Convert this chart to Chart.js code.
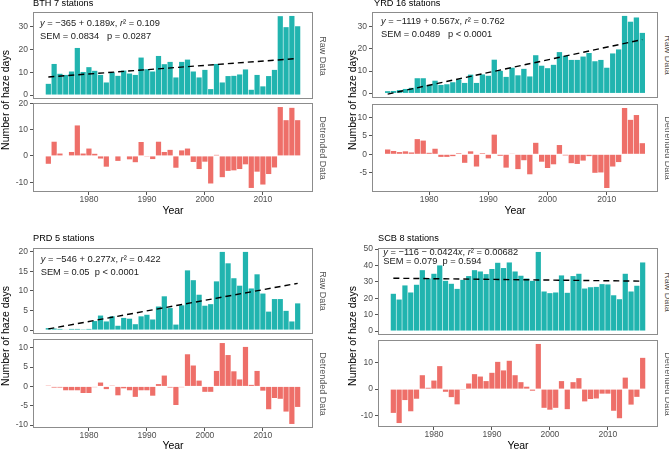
<!DOCTYPE html>
<html>
<head>
<meta charset="utf-8">
<title>Number of haze days</title>
<script src="https://cdn.jsdelivr.net/npm/chart.js@4.4.1/dist/chart.umd.min.js"></script>
<style>
    html, body { margin: 0; padding: 0; background: #fff; }
    #fig {
        position: relative;
        width: 669px;
        height: 450px;
        overflow: hidden;
        font-family: "Liberation Sans", Arial, sans-serif;
    }
    #fig canvas { position: absolute; }
    .lbl { position: absolute; white-space: pre; line-height: 1; z-index: 2; }
    .title { font-size: 9.2px; color: #000; }
    .eq { font-size: 9.3px; color: #1a1a1a; line-height: 13px; }
    .eq.tight { line-height: 9px; }
    .strip { font-size: 9px; color: #555; transform: translate(-50%, -50%) rotate(90deg); }
    .ytitle { font-size: 10.5px; color: #000; transform: translate(-50%, -50%) rotate(-90deg); }
</style>
</head>
<body>
<div id="fig">
    <!-- panel titles -->
    <div class="lbl title" style="left:33px; top:-0.6px;">BTH 7 stations</div>
    <div class="lbl title" style="left:374px; top:-0.6px;">YRD 16 stations</div>
    <div class="lbl title" style="left:33px; top:234.4px;">PRD 5 stations</div>
    <div class="lbl title" style="left:378px; top:234.4px;">SCB 8 stations</div>

    <!-- regression annotations -->
    <div class="lbl eq" style="left:40px; top:16.8px;"><i>y</i> = −365 + 0.189<i>x</i>, <i>r</i>² = 0.109
SEM = 0.0834   p = 0.0287</div>
    <div class="lbl eq" style="left:381px; top:14.8px;"><i>y</i> = −1119 + 0.567<i>x</i>, <i>r</i>² = 0.762
SEM = 0.0489   p &lt; 0.0001</div>
    <div class="lbl eq" style="left:40.7px; top:252.8px;"><i>y</i> = −546 + 0.277<i>x</i>, <i>r</i>² = 0.422
SEM = 0.05  p &lt; 0.0001</div>
    <div class="lbl eq tight" style="left:383.3px; top:247.5px;"><i>y</i> = −116 − 0.0424<i>x</i>, <i>r</i>² = 0.00682
SEM = 0.079  p = 0.594</div>

    <!-- facet strips -->
    <div class="lbl strip" style="left:321.5px; top:55.5px;">Raw Data</div>
    <div class="lbl strip" style="left:321.5px; top:147.5px;">Detrended Data</div>
    <div class="lbl strip" style="left:666.5px; top:55px;">Raw Data</div>
    <div class="lbl strip" style="left:666.5px; top:148px;">Detrended Data</div>
    <div class="lbl strip" style="left:321.5px; top:291px;">Raw Data</div>
    <div class="lbl strip" style="left:321.5px; top:383.5px;">Detrended Data</div>
    <div class="lbl strip" style="left:666.5px; top:291.5px;">Raw Data</div>
    <div class="lbl strip" style="left:666.5px; top:383.5px;">Detrended Data</div>

    <!-- shared y titles -->
    <div class="lbl ytitle" style="left:5px; top:100px;">Number of haze days</div>
    <div class="lbl ytitle" style="left:352px; top:100px;">Number of haze days</div>
    <div class="lbl ytitle" style="left:5px; top:336px;">Number of haze days</div>
    <div class="lbl ytitle" style="left:352px; top:336px;">Number of haze days</div>
</div>

<script>
// ---- data ----
const years = [1973, 1974, 1975, 1976, 1977, 1978, 1979, 1980, 1981, 1982,
               1983, 1984, 1985, 1986, 1987, 1988, 1989, 1990, 1991, 1992,
               1993, 1994, 1995, 1996, 1997, 1998, 1999, 2000, 2001, 2002,
               2003, 2004, 2005, 2006, 2007, 2008, 2009, 2010, 2011, 2012,
               2013, 2014, 2015, 2016];
const yearTicks = [1980, 1990, 2000, 2010];

const bthRaw = [4.9, 13.6, 9.3, 8.8, 10.3, 20.6, 10.1, 12.2, 10.6, 8.8,
                5.5, 9.9, 8.4, 10.7, 9.4, 8.8, 16.4, 11.3, 10.3, 17.1,
                13.5, 14.5, 7.7, 14.5, 15.5, 10.3, 7.7, 11.0, 2.6, 13.6,
                5.5, 8.3, 8.4, 9.0, 11.2, 2.3, 8.8, 3.8, 8.3, 11.0,
                34.5, 29.7, 34.6, 30.1];
const bthDetrended = [-3.0, 5.4, 0.9, -0.2, 1.5, 11.6, 0.9, 2.8, 0.8, -1.0,
                      -4.1, 0.2, -1.9, 0.2, -1.3, -2.4, 5.3, -0.1, -1.2, 5.4,
                      1.5, 2.3, -4.5, 2.1, 2.8, -2.3, -5.0, -2.2, -10.5, 0.4,
                      -8.1, -5.7, -5.5, -5.0, -3.2, -12.2, -6.0, -10.9, -6.9, -4.4,
                      18.6, 13.6, 18.3, 13.6];
const bthTrend = [7.9, 16.0];          // fitted line at 1973 and 2016
const bthRawTicks = [0, 10, 20, 30];
const bthDetrendedTicks = [-10, 0, 10, 20];

const yrdRaw = [1.0, 1.1, 1.5, 2.0, 2.5, 6.8, 6.8, 3.8, 5.7, 3.8,
                4.1, 5.0, 6.3, 4.7, 8.4, 4.7, 8.5, 7.9, 15.1, 10.1,
                7.4, 11.5, 8.1, 11.0, 7.6, 17.1, 12.4, 11.3, 12.8, 18.5,
                16.8, 15.0, 15.0, 16.5, 18.1, 14.4, 15.0, 11.5, 17.9, 19.7,
                34.7, 32.1, 34.0, 27.1];
const yrdDetrended = [1.3, 0.9, 0.6, 0.8, 0.5, 4.1, 3.7, 0.4, 1.5, -0.7,
                      -0.7, -0.5, 0.3, -2.3, 0.8, -3.3, 0.3, -1.1, 5.3, -0.4,
                      -3.6, 0.1, -4.0, -1.6, -5.4, 3.1, -2.0, -3.7, -2.7, 2.5,
                      -0.3, -2.4, -2.6, -1.7, -0.5, -5.0, -4.9, -9.1, -3.3, -2.1,
                      12.5, 9.3, 10.6, 3.0];
const yrdTrend = [-0.3, 24.1];
const yrdRawTicks = [0, 10, 20, 30];
const yrdDetrendedTicks = [-5, 0, 5, 10];

const prdRaw = [0.5, 0.4, 0.3, 0.1, 0.3, 0.3, 0.2, 0.3, 2.3, 3.7,
                2.2, 3.5, 1.1, 3.1, 2.9, 1.5, 3.5, 3.9, 2.7, 6.0,
                8.6, 5.6, 1.4, 6.3, 15.2, 12.7, 9.0, 6.2, 6.6, 12.4,
                19.9, 17.0, 13.2, 11.3, 19.9, 10.6, 14.2, 9.3, 4.7, 7.9,
                7.9, 4.9, 2.2, 6.8];
const prdDetrended = [0.2, -0.3, -0.3, -1.0, -1.0, -1.0, -1.7, -1.7, -0.2, 1.0,
                      -0.7, 0.2, -2.3, -0.5, -1.0, -2.7, -1.0, -1.0, -2.4, 0.6,
                      2.8, -0.3, -4.8, -0.2, 8.3, 5.4, 1.5, -1.4, -1.4, 4.0,
                      11.2, 8.1, 3.9, 1.8, 10.2, 0.4, 4.0, -1.1, -5.9, -3.0,
                      -3.2, -6.5, -9.7, -5.3];
const prdTrend = [0.3, 11.9];
const prdRawTicks = [0, 5, 10, 15, 20];
const prdDetrendedTicks = [-10, -5, 0, 5, 10];

const scbRaw = [22.7, 19.2, 27.8, 23.5, 28.2, 37.1, 32.0, 34.9, 40.0, 30.6,
                28.8, 25.7, 31.2, 33.5, 37.1, 36.3, 34.7, 37.8, 41.6, 38.4,
                41.8, 36.3, 33.7, 32.0, 30.6, 48.2, 24.1, 23.1, 23.5, 33.9,
                23.3, 33.5, 34.9, 25.9, 26.7, 26.9, 28.6, 28.4, 21.8, 19.4,
                34.9, 24.1, 27.6, 41.8];
const scbDetrended = [-8.9, -12.7, -4.1, -8.3, -3.6, 5.2, 0.5, 3.2, 8.6, -1.0,
                      -3.0, -5.7, -0.1, 2.1, 5.6, 4.7, 3.0, 6.1, 10.2, 7.0,
                      10.6, 5.2, 2.6, 0.9, -0.6, 16.9, -7.0, -7.7, -7.0, 3.0,
                      -7.5, 2.6, 4.1, -4.6, -3.7, -3.5, -1.7, -1.7, -8.1, -10.9,
                      4.3, -5.8, -2.9, 11.7];
const scbTrend = [32.2, 30.4];
const scbRawTicks = [0, 10, 20, 30, 40, 50];
const scbDetrendedTicks = [-10, 0, 10];

// ---- layout (pixels in the 669x450 figure) ----
const RAW_COLOR = '#21B4AF';
const DETRENDED_COLOR = '#EE6F69';
const TICK_FONT = { family: '"Liberation Sans", Arial, sans-serif', size: 8.5 };
const TITLE_FONT = { family: '"Liberation Sans", Arial, sans-serif', size: 10.5 };
const HEADROOM = 6;   // room above each panel so the top tick label is not clipped

const boxes = {
    bth: { x0: 0,   left: 33,  right: 313, rawTop: 12,  rawBottom: 99,  detTop: 103, detBottom: 192, axisH: 25 },
    yrd: { x0: 335, left: 372, right: 658, rawTop: 12,  rawBottom: 98,  detTop: 104, detBottom: 192, axisH: 25 },
    prd: { x0: 0,   left: 33,  right: 313, rawTop: 248, rawBottom: 334, detTop: 339, detBottom: 428, axisH: 24 },
    scb: { x0: 335, left: 378, right: 658, rawTop: 248, rawBottom: 335, detTop: 340, detBottom: 427, axisH: 25 }
};

/**
 * Grey frame around every panel, like the ggplot panel border
 */
const panelBorder = {
    id: 'panelBorder',
    afterDraw(chart) {
        const { ctx, chartArea: a } = chart;
        ctx.save();
        ctx.strokeStyle = '#8c8c8c';
        ctx.lineWidth = 1;
        ctx.strokeRect(a.left + 0.5, a.top + 0.5, a.width - 1, a.height - 1);
        ctx.restore();
    }
};

/**
 * y limits with the usual 5% padding around the data
 */
function yLimits(values, trend) {
    const all = values.concat(trend || []);
    const lo = Math.min(0, ...all);
    const hi = Math.max(0, ...all);
    const pad = (hi - lo) * 0.05;
    return [lo - pad, hi + pad];
}

/**
 * Draw one sub panel (raw or detrended)
 */
function drawPanel(box, top, bottom, values, trend, ticks, color, showYear) {
    const canvas = document.createElement('canvas');
    const width = box.right - box.x0;
    const height = bottom - top + HEADROOM + (showYear ? box.axisH : 0);
    canvas.width = width;
    canvas.height = height;
    canvas.style.width = width + 'px';
    canvas.style.height = height + 'px';
    canvas.style.left = box.x0 + 'px';
    canvas.style.top = (top - HEADROOM) + 'px';
    document.getElementById('fig').appendChild(canvas);

    const [yMin, yMax] = yLimits(values, trend);
    const datasets = [{
        type: 'bar',
        data: years.map((yr, i) => ({ x: yr, y: values[i] })),
        backgroundColor: color,
        borderWidth: 0,
        barPercentage: 0.9,
        categoryPercentage: 1,
        order: 2
    }];
    if (trend) {
        datasets.unshift({
            type: 'line',
            data: [
                { x: years[0], y: trend[0] },
                { x: years[years.length - 1], y: trend[1] }
            ],
            borderColor: '#000',
            borderWidth: 1.4,
            borderDash: [6, 4],
            pointRadius: 0,
            fill: false,
            order: 1
        });
    }

    return new Chart(canvas, {
        type: 'bar',
        data: { datasets },
        plugins: [panelBorder],
        options: {
            responsive: false,
            animation: false,
            devicePixelRatio: 1,
            layout: { padding: { top: HEADROOM, left: 0, right: 0, bottom: 0 } },
            plugins: {
                legend: { display: false },
                tooltip: { enabled: false }
            },
            scales: {
                x: {
                    type: 'linear',
                    min: 1970.355,
                    max: 2018.645,
                    offset: false,
                    display: showYear,
                    border: { display: false },
                    grid: { offset: false, drawOnChartArea: false, tickLength: 3, color: '#555' },
                    ticks: {
                        font: TICK_FONT,
                        color: '#4d4d4d',
                        padding: 0,
                        maxRotation: 0,
                        autoSkip: false,
                        callback: v => String(v)
                    },
                    title: {
                        display: showYear,
                        text: 'Year',
                        font: TITLE_FONT,
                        color: '#000',
                        padding: 0
                    },
                    afterBuildTicks: s => { s.ticks = yearTicks.map(v => ({ value: v })); },
                    afterFit: s => {
                        if (showYear) s.height = box.axisH;
                        s.paddingLeft = 0;
                        s.paddingRight = 0;
                    }
                },
                y: {
                    type: 'linear',
                    min: yMin,
                    max: yMax,
                    border: { display: false },
                    grid: { drawOnChartArea: false, tickLength: 3, color: '#555' },
                    ticks: {
                        font: TICK_FONT,
                        color: '#4d4d4d',
                        padding: 2,
                        autoSkip: false,
                        callback: v => String(v)
                    },
                    afterBuildTicks: s => { s.ticks = ticks.map(v => ({ value: v })); },
                    afterFit: s => {
                        s.width = box.left - box.x0;
                        s.paddingTop = 0;
                        s.paddingBottom = 0;
                    }
                }
            }
        }
    });
}

drawPanel(boxes.bth, boxes.bth.rawTop, boxes.bth.rawBottom, bthRaw, bthTrend, bthRawTicks, RAW_COLOR, false);
drawPanel(boxes.bth, boxes.bth.detTop, boxes.bth.detBottom, bthDetrended, null, bthDetrendedTicks, DETRENDED_COLOR, true);
drawPanel(boxes.yrd, boxes.yrd.rawTop, boxes.yrd.rawBottom, yrdRaw, yrdTrend, yrdRawTicks, RAW_COLOR, false);
drawPanel(boxes.yrd, boxes.yrd.detTop, boxes.yrd.detBottom, yrdDetrended, null, yrdDetrendedTicks, DETRENDED_COLOR, true);
drawPanel(boxes.prd, boxes.prd.rawTop, boxes.prd.rawBottom, prdRaw, prdTrend, prdRawTicks, RAW_COLOR, false);
drawPanel(boxes.prd, boxes.prd.detTop, boxes.prd.detBottom, prdDetrended, null, prdDetrendedTicks, DETRENDED_COLOR, true);
drawPanel(boxes.scb, boxes.scb.rawTop, boxes.scb.rawBottom, scbRaw, scbTrend, scbRawTicks, RAW_COLOR, false);
drawPanel(boxes.scb, boxes.scb.detTop, boxes.scb.detBottom, scbDetrended, null, scbDetrendedTicks, DETRENDED_COLOR, true);
</script>
</body>
</html>
